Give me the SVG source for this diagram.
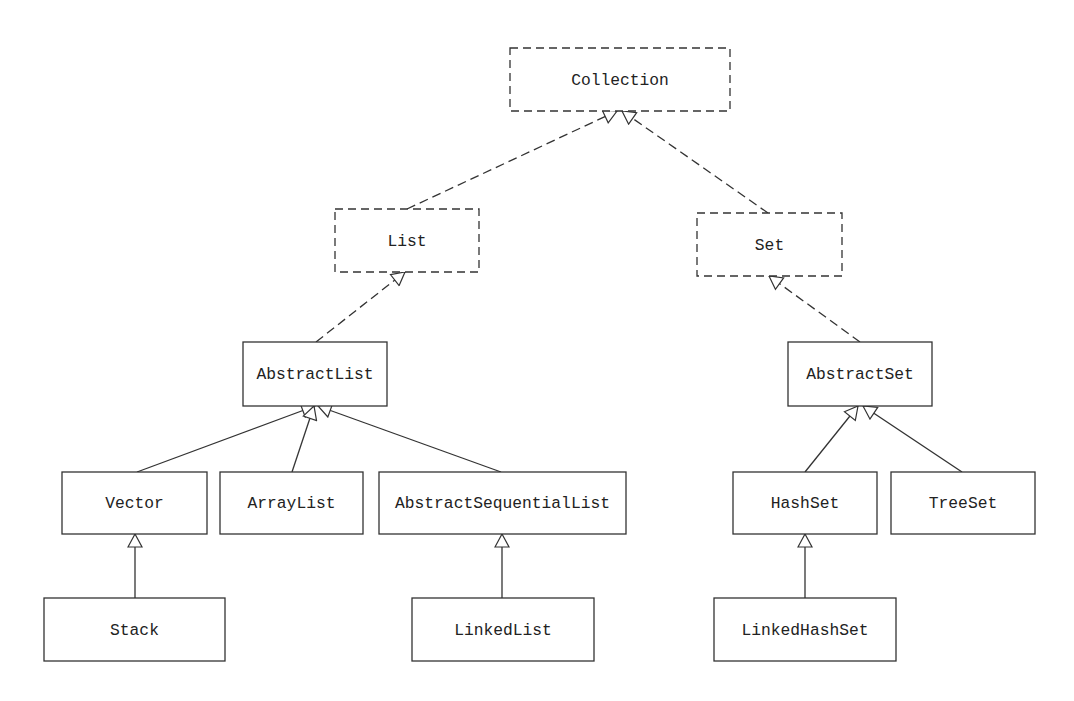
<svg xmlns="http://www.w3.org/2000/svg" width="1074" height="701" viewBox="0 0 1074 701">
<style>
.box{fill:#fff;stroke:#333;stroke-width:1.3}
.iface{stroke-dasharray:8,5}
.lbl{font-family:"Liberation Mono","DejaVu Sans Mono",monospace;font-size:16.3px;fill:#222;text-anchor:middle;dominant-baseline:central}
.edge{fill:none;stroke:#333;stroke-width:1.3;marker-end:url(#tri)}
.dash{stroke-dasharray:9,5}
</style>
<defs>
<marker id="tri" viewBox="0 0 16 16" refX="14.5" refY="8" markerWidth="16" markerHeight="16" markerUnits="userSpaceOnUse" orient="auto">
<path d="M1.5,1 L14.5,8 L1.5,15 Z" fill="#fff" stroke="#333" stroke-width="1.2" stroke-dasharray="none"/>
</marker>
</defs>
<rect width="1074" height="701" fill="#fff"/>
<g id="connectors">
<path class="edge dash" d="M407,209 L617,111"/>
<path class="edge dash" d="M768,213 L622,111"/>
<path class="edge dash" d="M316,342 L405,272"/>
<path class="edge dash" d="M860,342 L769,276"/>
<path class="edge" d="M137,472 L315,406"/>
<path class="edge" d="M292,472 L314,406"/>
<path class="edge" d="M501,472 L318,406"/>
<path class="edge" d="M135,598 L135,534"/>
<path class="edge" d="M502,598 L502,534"/>
<path class="edge" d="M805,472 L858,406"/>
<path class="edge" d="M962,472 L863,406"/>
<path class="edge" d="M805,598 L805,534"/>
</g>
<g id="Collection"><rect class="box iface" x="510" y="48" width="220" height="63"/><text class="lbl" x="620" y="80">Collection</text></g>
<g id="List"><rect class="box iface" x="335" y="209" width="144" height="63"/><text class="lbl" x="407" y="241">List</text></g>
<g id="Set"><rect class="box iface" x="697" y="213" width="145" height="63"/><text class="lbl" x="769.5" y="245">Set</text></g>
<g id="AbstractList"><rect class="box" x="243" y="342" width="144" height="64"/><text class="lbl" x="315" y="374">AbstractList</text></g>
<g id="AbstractSet"><rect class="box" x="788" y="342" width="144" height="64"/><text class="lbl" x="860" y="374">AbstractSet</text></g>
<g id="Vector"><rect class="box" x="62" y="472" width="145" height="62"/><text class="lbl" x="134.5" y="503">Vector</text></g>
<g id="ArrayList"><rect class="box" x="220" y="472" width="143" height="62"/><text class="lbl" x="291.5" y="503">ArrayList</text></g>
<g id="AbstractSequentialList"><rect class="box" x="379" y="472" width="247" height="62"/><text class="lbl" x="502.5" y="503">AbstractSequentialList</text></g>
<g id="Stack"><rect class="box" x="44" y="598" width="181" height="63"/><text class="lbl" x="134.5" y="630">Stack</text></g>
<g id="LinkedList"><rect class="box" x="412" y="598" width="182" height="63"/><text class="lbl" x="503" y="630">LinkedList</text></g>
<g id="HashSet"><rect class="box" x="733" y="472" width="144" height="62"/><text class="lbl" x="805" y="503">HashSet</text></g>
<g id="TreeSet"><rect class="box" x="891" y="472" width="144" height="62"/><text class="lbl" x="963" y="503">TreeSet</text></g>
<g id="LinkedHashSet"><rect class="box" x="714" y="598" width="182" height="63"/><text class="lbl" x="805" y="630">LinkedHashSet</text></g>
</svg>
